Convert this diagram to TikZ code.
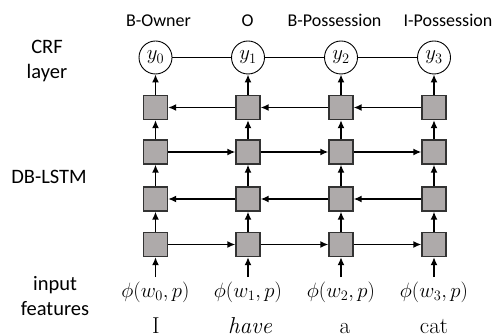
\documentclass[tikz,border=0pt]{standalone}
\usepackage{fontspec}
\newfontfamily\lblfont{Carlito}
\usetikzlibrary{arrows.meta}
\definecolor{boxfill}{HTML}{AEAAAA}
\definecolor{boxline}{HTML}{333333}
\tikzset{
  cell/.style={draw=boxline, fill=boxfill, line width=1.3pt, minimum width=24pt, minimum height=24pt, inner sep=0pt},
  crf/.style={draw, circle, line width=0.9pt, minimum size=33pt, inner sep=0pt, font=\fontsize{20}{20}\selectfont},
  arr/.style={-{Latex[length=8pt,width=7pt]}, line width=1.5pt},
  toplbl/.style={font=\lblfont\fontsize{18}{18}\selectfont, anchor=base},
  sidelbl/.style={font=\lblfont\fontsize{20.5}{25}\selectfont, align=center},
  feat/.style={font=\fontsize{20.5}{20}\selectfont},
  word/.style={font=\fontsize{23}{23}\selectfont, anchor=base, inner sep=0pt},
}
\begin{document}
\begin{tikzpicture}[x=1pt,y=-1pt]
\useasboundingbox (0,0) rectangle (497,336);
\def\cols{155.5/0,248/1,341/2,434/3}
% top labels
\node[toplbl] (t0) at (158.5,27) {B-Owner};
\node[toplbl] (t1) at (247.5,27) {O};
\node[toplbl] (t2) at (334.5,27) {B-Possession};
\node[toplbl] (t3) at (448,27) {I-Possession};
% side labels
\node[sidelbl] (crfl) at (47,61) {CRF\\layer};
\node[sidelbl] (dbl) at (49,177) {DB-LSTM};
\node[sidelbl] (inl) at (55,296) {input\\features};
% nodes
\foreach \x/\i in \cols {
  \node[crf] (y\i) at (\x,57.5) {$y_{\i}$};
  \node[cell] (a\i) at (\x,107.5) {};
  \node[cell] (b\i) at (\x,152) {};
  \node[cell] (c\i) at (\x,199) {};
  \node[cell] (d\i) at (\x,244.5) {};
  \node[feat] (f\i) at (\x,292) {$\phi(w_{\i},p)$};
  \draw[arr] (f\i.north) ++(0,-1) -- (d\i);
  \draw[arr] (d\i) -- (c\i);
  \draw[arr] (c\i) -- (b\i);
  \draw[arr] (b\i) -- (a\i);
  \draw[arr] (a\i) -- (y\i);
}
\node[word] (w0) at (156,333) {I};
\node[word] (w1) at (250,333) {\itshape have};
\node[word] (w2) at (345,333) {a};
\node[word] (w3) at (434,333) {cat};
% horizontal connections
\foreach \i/\j in {0/1,1/2,2/3} {
  \draw[line width=0.9pt] (y\i) -- (y\j);
  \draw[arr] (a\j) -- (a\i);
  \draw[arr] (b\i) -- (b\j);
  \draw[arr] (c\j) -- (c\i);
  \draw[arr] (d\i) -- (d\j);
}
\end{tikzpicture}
\end{document}
